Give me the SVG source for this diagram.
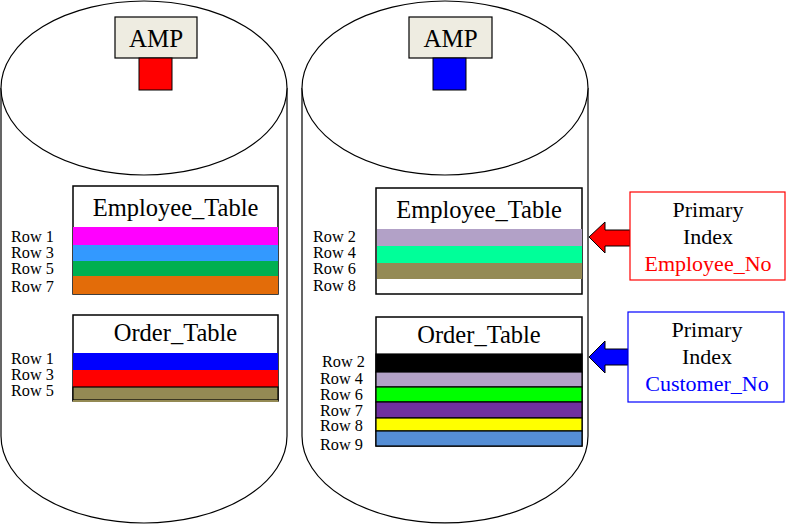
<svg xmlns="http://www.w3.org/2000/svg" width="786" height="524" viewBox="0 0 786 524">
<style>
text{font-family:"Liberation Serif","Times New Roman",serif;fill:#000}
.cyl{fill:#fff;stroke:#000;stroke-width:1.2}
.amp{fill:#EEECE1;stroke:#000;stroke-width:1.2}
.amp-t{font-size:25px;text-anchor:middle}
.tb{fill:#fff;stroke:#000;stroke-width:1.5}
.tt{font-size:24.5px;text-anchor:middle}
.rl{font-size:16.3px}
.pi{font-size:22px;text-anchor:middle}
.row{stroke:none}
.rowb{stroke:#000;stroke-width:1.2}
</style>
<g id="cylinder-left">
<path class="cyl" d="M1,88 L1,436 A143,87 0 0 0 287,436 L287,88"/>
<ellipse class="cyl" cx="144" cy="88" rx="143" ry="87"/>
</g>
<g id="cylinder-right">
<path class="cyl" d="M302,88 L302,436 A143,87 0 0 0 588,436 L588,88"/>
<ellipse class="cyl" cx="445" cy="88" rx="143" ry="87"/>
</g>
<g id="amp-left">
<rect class="amp" x="115" y="17" width="82" height="41"/>
<text class="amp-t" x="156" y="47">AMP</text>
<rect x="139" y="58" width="33" height="32" fill="#FF0000" stroke="#000" stroke-width="1"/>
</g>
<g id="amp-right">
<rect class="amp" x="409" y="17" width="83" height="41"/>
<text class="amp-t" x="450.5" y="47">AMP</text>
<rect x="433" y="58" width="33" height="32" fill="#0000FF" stroke="#000" stroke-width="1"/>
</g>
<g id="left-employee-table">
<rect class="tb" x="73" y="186" width="205" height="108"/>
<text class="tt" x="175.5" y="216">Employee_Table</text>
<rect class="row" x="73" y="227" width="205" height="18" fill="#FF00FF"/>
<rect class="row" x="73" y="245" width="205" height="16" fill="#3399FF"/>
<rect class="row" x="73" y="261" width="205" height="15" fill="#00B050"/>
<rect class="row" x="73" y="276" width="205" height="18" fill="#E36C09"/>
<text class="rl" x="11" y="242">Row 1</text>
<text class="rl" x="11" y="258">Row 3</text>
<text class="rl" x="11" y="274">Row 5</text>
<text class="rl" x="11" y="292">Row 7</text>
</g>
<g id="left-order-table">
<rect class="tb" x="73" y="315" width="205" height="86"/>
<text class="tt" x="175.5" y="341">Order_Table</text>
<rect class="row" x="73" y="353" width="205" height="17" fill="#0000FF"/>
<rect class="row" x="73" y="370" width="205" height="17" fill="#FF0000"/>
<rect class="rowb" x="73" y="387" width="205" height="13" fill="#948A54"/>
<rect class="row" x="73" y="400" width="205" height="2" fill="#948A54"/>
<text class="rl" x="11" y="364">Row 1</text>
<text class="rl" x="11" y="380">Row 3</text>
<text class="rl" x="11" y="396">Row 5</text>
</g>
<g id="right-employee-table">
<rect class="tb" x="376" y="188" width="206" height="106"/>
<text class="tt" x="479" y="218">Employee_Table</text>
<rect class="row" x="377" y="229" width="205" height="17" fill="#B2A1C7"/>
<rect class="row" x="377" y="246" width="205" height="17" fill="#00FF99"/>
<rect class="row" x="377" y="263" width="205" height="16" fill="#948A54"/>
<text class="rl" x="313" y="242">Row 2</text>
<text class="rl" x="313" y="258">Row 4</text>
<text class="rl" x="313" y="274">Row 6</text>
<text class="rl" x="313" y="291">Row 8</text>
</g>
<g id="right-order-table">
<rect class="tb" x="376" y="317" width="206" height="129"/>
<text class="tt" x="479" y="343">Order_Table</text>
<rect class="rowb" x="376" y="354" width="206" height="18" fill="#000000"/>
<rect class="rowb" x="376" y="372" width="206" height="15" fill="#B2A1C7"/>
<rect class="rowb" x="376" y="387" width="206" height="15" fill="#00FF00"/>
<rect class="rowb" x="376" y="402" width="206" height="16" fill="#7030A0"/>
<rect class="rowb" x="376" y="418" width="206" height="13" fill="#FFFF00"/>
<rect class="rowb" x="376" y="431" width="206" height="15" fill="#558ED5"/>
<text class="rl" x="322" y="367">Row 2</text>
<text class="rl" x="320" y="384">Row 4</text>
<text class="rl" x="320" y="400">Row 6</text>
<text class="rl" x="320" y="416">Row 7</text>
<text class="rl" x="320" y="431">Row 8</text>
<text class="rl" x="320" y="450">Row 9</text>
</g>
<g id="connectors">
<path d="M589,237 L605,222 L605,230 L630,230 L630,246 L605,246 L605,253 Z" fill="#FF0000" stroke="#000" stroke-width="1"/>
<path d="M589,357 L605,341 L605,349 L628,349 L628,365 L605,365 L605,373 Z" fill="#0000FF" stroke="#000" stroke-width="1"/>
</g>
<g id="pi-employee">
<rect x="630" y="192" width="155" height="88" fill="#fff" stroke="#FF0000" stroke-width="1.2"/>
<text class="pi" x="708" y="217">Primary</text>
<text class="pi" x="708" y="244">Index</text>
<text class="pi" x="708" y="271" style="fill:#FF0000">Employee_No</text>
</g>
<g id="pi-customer">
<rect x="628" y="312" width="156" height="90" fill="#fff" stroke="#0000FF" stroke-width="1.2"/>
<text class="pi" x="707" y="337">Primary</text>
<text class="pi" x="707" y="364">Index</text>
<text class="pi" x="707" y="391" style="fill:#0000FF">Customer_No</text>
</g>
</svg>
